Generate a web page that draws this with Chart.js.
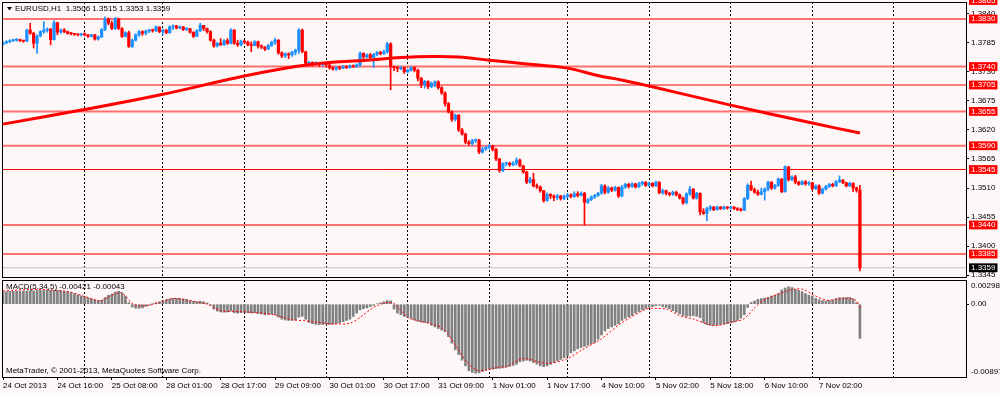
<!DOCTYPE html>
<html><head><meta charset="utf-8">
<script src="https://cdn.jsdelivr.net/npm/chart.js@4.4.0/dist/chart.umd.min.js"></script>
<style>
html,body{margin:0;padding:0;background:#fdf8f7;}
#wrap{position:relative;width:1000px;height:393px;overflow:hidden;background:#fdf8f7;}
#c1{position:absolute;left:0;top:0;}
#c2{position:absolute;left:0;top:279px;}
</style></head><body>
<div id="wrap"><canvas id="c1" width="1000" height="279"></canvas><canvas id="c2" width="1000" height="114"></canvas></div>
<script>
// ---------------- DATA ----------------
const symbolTitle = 'EURUSD,H1';
const lastBarOHLC = ['1.3506', '1.3515', '1.3353', '1.3359'];
const macdTitle = 'MACD(5,34,5) -0.00421 -0.00043';
const copyrightText = 'MetaTrader, \u00A9 2001-2013, MetaQuotes Software Corp.';

const timeLabels = ['24 Oct 2013','24 Oct 16:00','25 Oct 08:00','28 Oct 01:00','28 Oct 17:00','29 Oct 09:00','30 Oct 01:00','30 Oct 17:00','31 Oct 09:00','1 Nov 01:00','1 Nov 17:00','4 Nov 10:00','5 Nov 02:00','5 Nov 18:00','6 Nov 10:00','7 Nov 02:00'];
const timeLabelBars = [0,16,32,48,64,80,96,112,128,144,160,176,192,208,224,240];
const dayStartBars = [24,47,71,95,119,143,166,190,214,238,262];

const priceTickValues = [1.3840,1.3785,1.3730,1.3675,1.3620,1.3565,1.3510,1.3455,1.3400,1.3345];
const levelValues = [1.3865,1.3830,1.3740,1.3705,1.3655,1.3590,1.3545,1.3440,1.3385];
const bidPrice = 1.3359;

const firstOpen = 1.3782;
const closes = [
1.3785,1.3787,1.3789,1.3790,1.3791,1.3789,1.3788,1.3809,1.3803,1.3784,
1.3798,1.3806,1.3809,1.3811,1.3791,1.3823,1.3805,1.3809,1.3806,1.3803,
1.3802,1.3801,1.3800,1.3801,1.3800,1.3797,1.3800,1.3792,1.3796,1.3810,
1.3830,1.3822,1.3812,1.3831,1.3812,1.3797,1.3804,1.3778,1.3790,1.3800,
1.3806,1.3803,1.3807,1.3809,1.3808,1.3815,1.3806,1.3809,1.3804,1.3815,
1.3817,1.3813,1.3815,1.3810,1.3812,1.3805,1.3797,1.3808,1.3818,1.3812,
1.3806,1.3790,1.3779,1.3784,1.3781,1.3789,1.3784,1.3809,1.3784,1.3781,
1.3788,1.3786,1.3781,1.3780,1.3787,1.3779,1.3777,1.3773,1.3780,1.3786,
1.3790,1.3766,1.3760,1.3764,1.3762,1.3767,1.3771,1.3809,1.3768,1.3746,
1.3748,1.3745,1.3747,1.3744,1.3746,1.3743,1.3738,1.3735,1.3738,1.3737,
1.3740,1.3738,1.3741,1.3740,1.3743,1.3765,1.3758,1.3762,1.3757,1.3763,
1.3767,1.3764,1.3768,1.3783,1.3740,1.3738,1.3736,1.3738,1.3730,1.3733,
1.3738,1.3733,1.3718,1.3706,1.3712,1.3702,1.3708,1.3711,1.3700,1.3690,
1.3670,1.3654,1.3640,1.3648,1.3620,1.3612,1.3597,1.3594,1.3600,1.3601,
1.3578,1.3584,1.3587,1.3590,1.3583,1.3565,1.3543,1.3556,1.3557,1.3554,
1.3557,1.3563,1.3552,1.3540,1.3521,1.3526,1.3514,1.3512,1.3505,1.3486,
1.3498,1.3495,1.3492,1.3495,1.3490,1.3494,1.3497,1.3494,1.3499,1.3496,
1.3500,1.3483,1.3488,1.3493,1.3496,1.3500,1.3514,1.3502,1.3510,1.3506,
1.3511,1.3495,1.3512,1.3517,1.3513,1.3518,1.3512,1.3518,1.3521,1.3515,
1.3519,1.3514,1.3521,1.3501,1.3505,1.3500,1.3498,1.3502,1.3497,1.3491,
1.3482,1.3499,1.3508,1.3491,1.3500,1.3465,1.3462,1.3471,1.3474,1.3469,
1.3474,1.3471,1.3474,1.3472,1.3474,1.3471,1.3469,1.3468,1.3490,1.3515,
1.3507,1.3502,1.3498,1.3503,1.3508,1.3521,1.3510,1.3515,1.3527,1.3503,
1.3550,1.3526,1.3531,1.3521,1.3517,1.3522,1.3518,1.3520,1.3509,1.3514,
1.3500,1.3508,1.3513,1.3517,1.3514,1.3522,1.3525,1.3520,1.3514,1.3519,
1.3510,1.3506,1.3359];
const highs = [
1.3787,1.3789,1.3791,1.3792,1.3793,1.3792,1.3790,1.3811,1.3822,1.3805,
1.3800,1.3808,1.3825,1.3813,1.3812,1.3827,1.3824,1.3811,1.3812,1.3807,
1.3805,1.3803,1.3802,1.3803,1.3804,1.3801,1.3801,1.3801,1.3798,1.3812,
1.3834,1.3832,1.3826,1.3833,1.3831,1.3814,1.3806,1.3807,1.3792,1.3802,
1.3808,1.3808,1.3809,1.3811,1.3811,1.3817,1.3815,1.3811,1.3810,1.3817,
1.3819,1.3818,1.3817,1.3816,1.3814,1.3812,1.3806,1.3810,1.3822,1.3818,
1.3813,1.3808,1.3792,1.3786,1.3793,1.3791,1.3793,1.3812,1.3810,1.3790,
1.3790,1.3790,1.3788,1.3787,1.3789,1.3788,1.3781,1.3778,1.3782,1.3788,
1.3794,1.3791,1.3768,1.3766,1.3766,1.3769,1.3773,1.3812,1.3811,1.3769,
1.3750,1.3749,1.3749,1.3748,1.3748,1.3747,1.3744,1.3740,1.3740,1.3740,
1.3742,1.3742,1.3743,1.3743,1.3745,1.3768,1.3766,1.3764,1.3765,1.3765,
1.3769,1.3769,1.3771,1.3786,1.3785,1.3741,1.3740,1.3740,1.3739,1.3735,
1.3740,1.3740,1.3735,1.3719,1.3714,1.3713,1.3711,1.3713,1.3713,1.3702,
1.3692,1.3672,1.3656,1.3650,1.3649,1.3623,1.3614,1.3600,1.3602,1.3603,
1.3602,1.3587,1.3589,1.3592,1.3591,1.3585,1.3566,1.3558,1.3559,1.3559,
1.3560,1.3567,1.3565,1.3553,1.3542,1.3530,1.3538,1.3518,1.3514,1.3505,
1.3501,1.3499,1.3497,1.3498,1.3496,1.3497,1.3500,1.3499,1.3503,1.3503,
1.3503,1.3502,1.3490,1.3495,1.3498,1.3502,1.3517,1.3516,1.3513,1.3512,
1.3513,1.3512,1.3515,1.3519,1.3519,1.3520,1.3519,1.3521,1.3523,1.3522,
1.3521,1.3520,1.3523,1.3522,1.3508,1.3506,1.3502,1.3504,1.3504,1.3499,
1.3493,1.3501,1.3513,1.3509,1.3502,1.3501,1.3471,1.3474,1.3477,1.3475,
1.3476,1.3475,1.3476,1.3475,1.3476,1.3475,1.3473,1.3472,1.3492,1.3518,
1.3523,1.3510,1.3506,1.3510,1.3510,1.3523,1.3522,1.3517,1.3529,1.3528,
1.3552,1.3551,1.3533,1.3534,1.3523,1.3524,1.3524,1.3522,1.3521,1.3516,
1.3516,1.3510,1.3515,1.3519,1.3519,1.3524,1.3533,1.3526,1.3521,1.3521,
1.3520,1.3512,1.3515];
const lows = [
1.3781,1.3783,1.3785,1.3787,1.3788,1.3787,1.3786,1.3787,1.3801,1.3775,
1.3765,1.3796,1.3803,1.3805,1.3781,1.3790,1.3800,1.3803,1.3804,1.3801,
1.3800,1.3799,1.3798,1.3798,1.3798,1.3795,1.3796,1.3790,1.3790,1.3795,
1.3808,1.3819,1.3810,1.3810,1.3810,1.3795,1.3796,1.3776,1.3776,1.3788,
1.3797,1.3799,1.3800,1.3804,1.3805,1.3806,1.3804,1.3800,1.3802,1.3803,
1.3810,1.3811,1.3811,1.3808,1.3808,1.3803,1.3795,1.3797,1.3806,1.3808,
1.3803,1.3788,1.3776,1.3777,1.3780,1.3780,1.3782,1.3783,1.3782,1.3778,
1.3779,1.3783,1.3779,1.3768,1.3779,1.3775,1.3774,1.3770,1.3772,1.3778,
1.3782,1.3763,1.3757,1.3757,1.3755,1.3759,1.3762,1.3765,1.3766,1.3744,
1.3742,1.3741,1.3743,1.3740,1.3741,1.3740,1.3735,1.3733,1.3733,1.3734,
1.3736,1.3736,1.3737,1.3738,1.3738,1.3740,1.3755,1.3756,1.3754,1.3738,
1.3760,1.3762,1.3763,1.3765,1.3696,1.3732,1.3730,1.3734,1.3727,1.3728,
1.3731,1.3730,1.3713,1.3700,1.3699,1.3698,1.3700,1.3702,1.3697,1.3687,
1.3665,1.3652,1.3636,1.3637,1.3617,1.3610,1.3594,1.3591,1.3591,1.3596,
1.3575,1.3576,1.3581,1.3584,1.3580,1.3562,1.3540,1.3541,1.3552,1.3551,
1.3552,1.3553,1.3550,1.3538,1.3518,1.3519,1.3512,1.3509,1.3502,1.3483,
1.3485,1.3490,1.3486,1.3488,1.3487,1.3488,1.3491,1.3491,1.3492,1.3493,
1.3495,1.3440,1.3481,1.3486,1.3490,1.3494,1.3498,1.3499,1.3500,1.3503,
1.3504,1.3492,1.3493,1.3509,1.3510,1.3511,1.3510,1.3511,1.3515,1.3513,
1.3513,1.3512,1.3513,1.3499,1.3498,1.3497,1.3495,1.3496,1.3495,1.3489,
1.3479,1.3480,1.3496,1.3489,1.3489,1.3459,1.3460,1.3448,1.3467,1.3467,
1.3468,1.3469,1.3469,1.3470,1.3470,1.3469,1.3467,1.3466,1.3467,1.3488,
1.3505,1.3500,1.3496,1.3497,1.3487,1.3505,1.3507,1.3508,1.3513,1.3501,
1.3502,1.3523,1.3524,1.3518,1.3515,1.3516,1.3515,1.3515,1.3506,1.3507,
1.3498,1.3499,1.3506,1.3511,1.3512,1.3513,1.3520,1.3518,1.3512,1.3513,
1.3503,1.3502,1.3353];

// moving average (read at these bar positions)
const maBars = [0,23.5,46,71,87,93,99,107,117,126.5,134,143,154,166,175.5,181.5,190,214,238,252];
const maValues = [1.3631,1.3658,1.3686,1.3722,1.3741,1.3746,1.3749,1.3752,1.3757,1.3759,1.3758,1.3752,1.3745,1.3737,1.3722,1.3715,1.3703,1.3667,1.3633,1.3614];

// MACD main (histogram), one value per bar
const macdMain = [
0.00150,0.00155,0.00158,0.00160,0.00160,0.00160,0.00162,0.00163,0.00165,0.00165,
0.00168,0.00170,0.00170,0.00172,0.00172,0.00170,0.00168,0.00165,0.00160,0.00155,
0.00143,0.00130,0.00115,0.00100,0.00090,0.00080,0.00065,0.00055,0.00045,0.00048,
0.00080,0.00110,0.00125,0.00150,0.00160,0.00140,0.00100,0.00020,-0.00035,-0.00050,
-0.00050,-0.00045,-0.00025,-0.00010,0.00005,0.00020,0.00030,0.00040,0.00055,0.00065,
0.00070,0.00072,0.00070,0.00065,0.00060,0.00045,0.00035,0.00030,0.00035,0.00030,
0.00015,-0.00010,-0.00060,-0.00085,-0.00095,-0.00100,-0.00095,-0.00085,-0.00105,-0.00110,
-0.00105,-0.00100,-0.00105,-0.00110,-0.00105,-0.00115,-0.00120,-0.00130,-0.00125,-0.00125,
-0.00130,-0.00160,-0.00185,-0.00195,-0.00200,-0.00200,-0.00195,-0.00160,-0.00150,-0.00185,
-0.00225,-0.00240,-0.00250,-0.00250,-0.00250,-0.00248,-0.00250,-0.00245,-0.00240,-0.00230,
-0.00215,-0.00200,-0.00185,-0.00150,-0.00110,-0.00070,-0.00055,-0.00045,-0.00030,-0.00015,
0.00005,0.00015,0.00030,0.00045,0.00040,-0.00060,-0.00110,-0.00130,-0.00150,-0.00160,
-0.00175,-0.00195,-0.00210,-0.00220,-0.00225,-0.00230,-0.00260,-0.00280,-0.00300,-0.00320,
-0.00340,-0.00400,-0.00480,-0.00560,-0.00620,-0.00690,-0.00760,-0.00820,-0.00840,-0.00850,
-0.00845,-0.00830,-0.00815,-0.00800,-0.00800,-0.00795,-0.00790,-0.00785,-0.00775,-0.00765,
-0.00755,-0.00740,-0.00710,-0.00700,-0.00690,-0.00700,-0.00720,-0.00740,-0.00760,-0.00770,
-0.00760,-0.00740,-0.00720,-0.00700,-0.00680,-0.00660,-0.00640,-0.00600,-0.00575,-0.00550,
-0.00535,-0.00520,-0.00505,-0.00490,-0.00470,-0.00430,-0.00380,-0.00330,-0.00300,-0.00280,
-0.00260,-0.00240,-0.00200,-0.00175,-0.00155,-0.00140,-0.00110,-0.00090,-0.00070,-0.00055,
-0.00040,-0.00030,-0.00020,-0.00015,-0.00030,-0.00040,-0.00055,-0.00080,-0.00100,-0.00120,
-0.00140,-0.00150,-0.00145,-0.00140,-0.00150,-0.00165,-0.00230,-0.00250,-0.00260,-0.00260,
-0.00255,-0.00250,-0.00245,-0.00240,-0.00230,-0.00220,-0.00200,-0.00170,-0.00130,-0.00040,
0.00020,0.00040,0.00060,0.00070,0.00075,0.00085,0.00100,0.00110,0.00130,0.00175,
0.00200,0.00215,0.00205,0.00185,0.00170,0.00155,0.00130,0.00110,0.00100,0.00070,
0.00055,0.00045,0.00040,0.00045,0.00050,0.00070,0.00080,0.00080,0.00080,0.00080,
0.00065,0.00020,-0.00421];

// MACD signal (read at these bar positions)
const signalBars = [0,9,19,25,28.5,31.5,34.4,36,38.3,42,46,50,54,60,64,68,73.6,79.5,85,89,93,97,102,105,109,113,115,119,122,126,129.5,133.4,136.4,139.3,142,146,148,153,160,166,170,176,181.5,185.4,189.3,192.3,195.2,199,203,209,214,217.8,220.7,223.6,228.5,232.5,235.4,238.3,242.3,245.2,249,251,252];
const signalValues = [0.00163,0.00183,0.00155,0.00082,0.00041,0.00102,0.00143,0.00102,0.00000,-0.00020,0.00020,0.00070,0.00050,0.00000,-0.00080,-0.00089,-0.00101,-0.00130,-0.00190,-0.00205,-0.00225,-0.00243,-0.00235,-0.00162,-0.00040,0.00020,0.00008,-0.00162,-0.00203,-0.00243,-0.00304,-0.00528,-0.00711,-0.00812,-0.00812,-0.00772,-0.00772,-0.00670,-0.00731,-0.00670,-0.00569,-0.00426,-0.00243,-0.00142,-0.00060,-0.00052,-0.00060,-0.00142,-0.00182,-0.00264,-0.00223,-0.00182,-0.00060,0.00049,0.00131,0.00183,0.00183,0.00114,0.00049,0.00061,0.00074,0.00041,-0.00043];

const macdMax = 0.00298, macdMin = -0.00897;
const macdAxisLabels = ['0.00298', '0.00', '-0.00897'];

// ---------------- STYLE / LAYOUT ----------------
const BULL = '#1e90ff', BEAR = '#ff0000';
const levelThick = [true, true, true, false, true, true, false, true, true];
const X_MIN = -0.3, X_MAX = 283.2;
const PRICE_MIN = 1.33415, PRICE_MAX = 1.38622;
const macdLabelAnchors = [0.00228, 0, -0.00835]; // where MT4 prints its panel max/zero/min labels
const FONT = '"Liberation Sans", Arial, sans-serif';
const TRANSPARENT = 'rgba(0,0,0,0)';

Chart.defaults.font.family = FONT;
Chart.defaults.font.size = 8;
Chart.defaults.color = '#000';

const opens = closes.map((c, i) => i === 0 ? firstOpen : closes[i - 1]);
const candleColors = closes.map((c, i) => c >= opens[i] ? BULL : BEAR);

function overlay(id, draws) {
  return {
    id,
    afterDraw(chart) {
      const {ctx, chartArea: a} = chart;
      ctx.save();
      ctx.strokeStyle = '#000';
      ctx.lineWidth = 1;
      ctx.strokeRect(Math.round(a.left) + 0.5, Math.round(a.top) + 0.5, Math.round(a.right - a.left), Math.round(a.bottom - a.top));
      ctx.fillStyle = '#000';
      ctx.font = '8px ' + FONT;
      ctx.textBaseline = 'middle';
      draws(ctx, a);
      ctx.restore();
    }
  };
}

// ---------------- PRICE CHART ----------------
const nPriceTicks = priceTickValues.length;
const allPriceTicks = priceTickValues.concat(levelValues, [bidPrice]);
const isLevelIdx = i => i >= nPriceTicks;
const isBidIdx = i => i === allPriceTicks.length - 1;

const priceDatasets = [
  { type: 'line', order: 0, data: maBars.map((b, k) => ({x: b, y: maValues[k]})),
    borderColor: '#ff0000', borderWidth: 3, pointRadius: 0, tension: 0.4 },
  { type: 'bar', order: 1, grouped: false, data: closes.map((c, i) => ({x: i, y: [opens[i], c]})),
    backgroundColor: candleColors, barThickness: 2.6, minBarLength: 1, borderWidth: 0 },
  { type: 'bar', order: 2, grouped: false, data: closes.map((c, i) => ({x: i, y: [lows[i], highs[i]]})),
    backgroundColor: candleColors, barThickness: 1, borderWidth: 0 },
  { type: 'line', order: 3, data: [{x: X_MIN, y: bidPrice}, {x: X_MAX, y: bidPrice}],
    borderColor: '#c0c0c0', borderWidth: 1, pointRadius: 0 }
].concat(levelValues.map((v, k) => ({
  type: 'line', order: 4, data: [{x: X_MIN, y: v}, {x: X_MAX, y: v}],
  borderColor: levelThick[k] ? '#ff7070' : '#ff0000', borderWidth: levelThick[k] ? 2 : 1, pointRadius: 0
})));

new Chart(document.getElementById('c1'), {
  type: 'bar',
  data: { datasets: priceDatasets },
  options: {
    responsive: false, animation: false, devicePixelRatio: 1, events: [],
    layout: { padding: { left: 2, top: 2, right: 0, bottom: 2 } },
    plugins: { legend: { display: false }, tooltip: { enabled: false } },
    scales: {
      x: {
        type: 'linear', min: X_MIN, max: X_MAX, offset: false,
        afterBuildTicks: s => { s.ticks = dayStartBars.map(v => ({value: v})); },
        afterFit: s => { s.height = 0; s.paddingLeft = 0; s.paddingRight = 0; },
        ticks: { display: false, autoSkip: false },
        grid: { display: true, drawOnChartArea: true, drawTicks: false, color: '#000', lineWidth: 1, offset: false },
        border: { display: false, dash: [2, 2] }
      },
      y: {
        type: 'linear', position: 'right', min: PRICE_MIN, max: PRICE_MAX, beginAtZero: false,
        afterBuildTicks: s => { s.ticks = allPriceTicks.map(v => ({value: v})); },
        afterFit: s => { s.width = 34; s.paddingTop = 0; s.paddingBottom = 0; },
        ticks: {
          autoSkip: false, padding: 2,
          font: { family: FONT, size: 8, lineHeight: 1.1 },
          callback: v => v.toFixed(4),
          color: c => isLevelIdx(c.index) ? '#ffffff' : '#000000',
          showLabelBackdrop: c => isLevelIdx(c.index),
          backdropColor: c => isBidIdx(c.index) ? '#000000' : '#ff0000',
          backdropPadding: { left: 2, right: 2, top: 0, bottom: 0 }
        },
        grid: { drawOnChartArea: false, drawTicks: true, tickLength: 3,
          tickColor: c => isLevelIdx(c.index) ? TRANSPARENT : '#000', color: TRANSPARENT },
        border: { display: false }
      }
    }
  },
  plugins: [overlay('priceOverlay', (ctx, a) => {
    ctx.beginPath();
    ctx.moveTo(7, 7); ctx.lineTo(12, 7); ctx.lineTo(9.5, 10.5); ctx.closePath();
    ctx.fill();
    ctx.fillText(symbolTitle + '  ' + lastBarOHLC.join(' '), 15, 8.5);
  })]
});

// ---------------- MACD CHART ----------------
const nGridTicks = dayStartBars.length;
new Chart(document.getElementById('c2'), {
  type: 'bar',
  data: { datasets: [
    { type: 'line', order: 0, data: signalBars.map((b, k) => ({x: b, y: signalValues[k]})),
      borderColor: '#ff0000', borderWidth: 1, borderDash: [2, 2], pointRadius: 0, tension: 0.3 },
    { type: 'bar', order: 1, grouped: false, data: macdMain.map((v, i) => ({x: i, y: v})),
      backgroundColor: '#808080', barThickness: 2, borderWidth: 0 }
  ]},
  options: {
    responsive: false, animation: false, devicePixelRatio: 1, events: [],
    layout: { padding: { left: 2, top: 1, right: 0, bottom: 0 } },
    plugins: { legend: { display: false }, tooltip: { enabled: false } },
    scales: {
      x: {
        type: 'linear', min: X_MIN, max: X_MAX, offset: false, position: 'bottom',
        afterBuildTicks: s => { s.ticks = dayStartBars.concat(timeLabelBars).map(v => ({value: v})); },
        afterFit: s => { s.height = 16; s.paddingLeft = 0; s.paddingRight = 0; },
        ticks: { autoSkip: false, maxRotation: 0, minRotation: 0, align: 'start', padding: 1,
          font: { family: FONT, size: 8 }, color: '#000',
          callback: (v, i) => i < nGridTicks ? '' : timeLabels[i - nGridTicks] },
        grid: { display: true, drawOnChartArea: true, drawTicks: true, tickLength: 3, offset: false,
          color: c => c.index < nGridTicks ? '#000' : TRANSPARENT,
          tickColor: c => c.index < nGridTicks ? TRANSPARENT : '#000' },
        border: { display: false, dash: [2, 2] }
      },
      y: {
        type: 'linear', position: 'right', min: macdMin, max: macdMax, beginAtZero: false,
        afterBuildTicks: s => { s.ticks = macdLabelAnchors.map(v => ({value: v})); },
        afterFit: s => { s.width = 34; s.paddingTop = 0; s.paddingBottom = 0; },
        ticks: { autoSkip: false, padding: 2, font: { family: FONT, size: 8 }, color: '#000',
          callback: (v, i) => macdAxisLabels[i] },
        grid: { drawOnChartArea: false, drawTicks: true, tickLength: 3, color: TRANSPARENT,
          tickColor: c => c.index === 1 ? '#000' : TRANSPARENT },
        border: { display: false }
      }
    }
  },
  plugins: [overlay('macdOverlay', (ctx, a) => {
    ctx.fillText(macdTitle, 6, 7.5);
    ctx.fillText(copyrightText, 6, 92);
  })]
});
</script>
</body></html>
